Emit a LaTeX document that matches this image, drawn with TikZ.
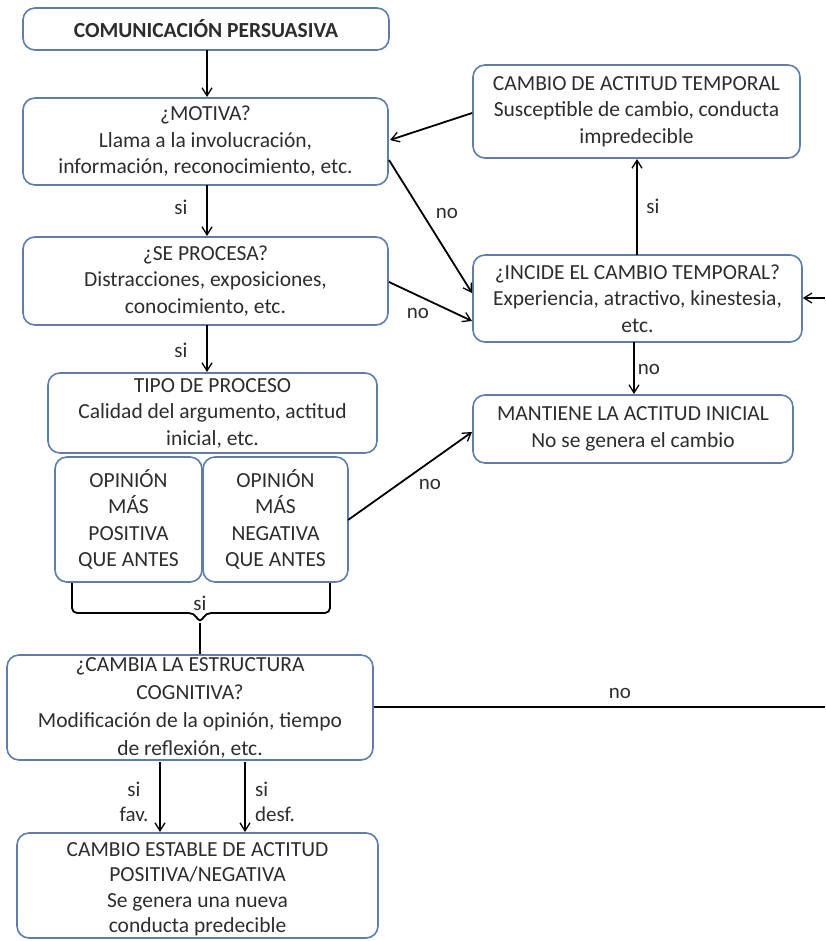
\documentclass[tikz,border=0pt]{standalone}
\usepackage{fontspec}
\setmainfont{Carlito}
\usetikzlibrary{arrows.meta}
\definecolor{boxc}{RGB}{95,125,172}
\definecolor{txt}{RGB}{45,45,45}
\begin{document}
\begin{tikzpicture}[x=1pt,y=-1pt,
  box/.style={draw=boxc,line width=1.6pt,rounded corners=12pt,fill=white,align=center,inner sep=2pt,text=txt,font=\fontsize{21.5}{26.5}\selectfont},
  arr/.style={-{Straight Barb[length=8pt,width=10pt,line width=1.3pt]},line width=1.8pt,black},
  ln/.style={line width=1.8pt,black},
  lab/.style={text=txt,font=\fontsize{21}{25}\selectfont,inner sep=1pt}]
\useasboundingbox (0,0) rectangle (825,941);
\node[box,minimum width=366pt,minimum height=42pt] (com) at (206,29) {\textbf{COMUNICACIÓN PERSUASIVA}};
\node[box,minimum width=365pt,minimum height=87pt] (mot) at (205.5,141.5) {¿MOTIVA?\\Llama a la involucración,\\información, reconocimiento, etc.};
\node[box,minimum width=365pt,minimum height=88pt] (proc) at (205.5,281) {¿SE PROCESA?\\Distracciones, exposiciones,\\conocimiento, etc.};
\node[box,minimum width=329pt,minimum height=80pt] (tipo) at (212.5,413) {TIPO DE PROCESO\\Calidad del argumento, actitud\\inicial, etc.};
\node[box,minimum width=147pt,minimum height=125pt] (pos) at (128.5,519.5) {OPINIÓN\\MÁS\\POSITIVA\\QUE ANTES};
\node[box,minimum width=145pt,minimum height=125pt] (neg) at (275.5,519.5) {OPINIÓN\\MÁS\\NEGATIVA\\QUE ANTES};
\node[box,minimum width=366pt,minimum height=105pt,font=\fontsize{21.5}{28}\selectfont] (camb) at (190,707.5) {¿CAMBIA LA ESTRUCTURA\\COGNITIVA?\\Modificación de la opinión, tiempo\\de reflexión, etc.};
\node[box,minimum width=361pt,minimum height=105pt,font=\fontsize{21.5}{25.5}\selectfont] (est) at (197.5,885.5) {\rule{0pt}{21pt}CAMBIO ESTABLE DE ACTITUD\\POSITIVA/NEGATIVA\\Se genera una nueva\\conducta predecible};
\node[box,minimum width=327pt,minimum height=93pt] (temp) at (636.5,111.5) {CAMBIO DE ACTITUD TEMPORAL\\Susceptible de cambio, conducta\\impredecible};
\node[box,minimum width=329pt,minimum height=87pt] (inc) at (637.5,298.5) {¿INCIDE EL CAMBIO TEMPORAL?\\Experiencia, atractivo, kinestesia,\\etc.};
\node[box,minimum width=320pt,minimum height=68pt] (mant) at (633,429) {MANTIENE LA ACTITUD INICIAL\\No se genera el cambio};
% left column
\draw[arr] (207,50) -- (207,97);
\draw[arr] (207,185) -- (207,236);
\node[lab] (si1) at (181,207) {si};
\draw[arr] (207,325) -- (207,372);
\node[lab] (si2) at (181,350) {si};
% brace
\coordinate (tip) at (200,623);
\draw[ln,rounded corners=5pt] (72,583) -- (72,613) -- (194,613) -- (tip) -- (206,613) -- (330,613) -- (330,583);
\node[lab] (bsi) at (200,603) {si};
\draw[ln] (tip) -- (tip |- camb.north);
% bottom
\draw[arr] (160,762) -- (160,832);
\node[lab,align=center,font=\fontsize{21}{25}\selectfont] (fav) at (134,802) {si\\fav.};
\draw[arr] (245,762) -- (245,832);
\node[lab,align=left,font=\fontsize{21}{25}\selectfont] (desf) at (275,802) {si\\desf.};
\coordinate (re) at (825,707);
\draw[ln] (camb.east |- re) -- (re);
\node[lab] (no5) at (620,693) {no};
\coordinate (ri) at (825,298);
\draw[arr] (ri) -- (inc.east |- ri);
% right column
\draw[arr] (temp.west |- 0,113) -- (390,140);
\draw[arr] (389,160) -- (472,293);
\node[lab] (no1) at (447,213) {no};
\draw[arr] (389,282) -- (472,321);
\node[lab] (no2) at (418,313) {no};
\draw[arr] (637,255) -- (637,159);
\node[lab] (si3) at (653,206) {si};
\draw[arr] (634,342) -- (634,394);
\node[lab] (no3) at (649,369) {no};
\draw[arr] (348,520) -- (472,432);
\node[lab] (no4) at (430,484) {no};
\end{tikzpicture}
\end{document}
